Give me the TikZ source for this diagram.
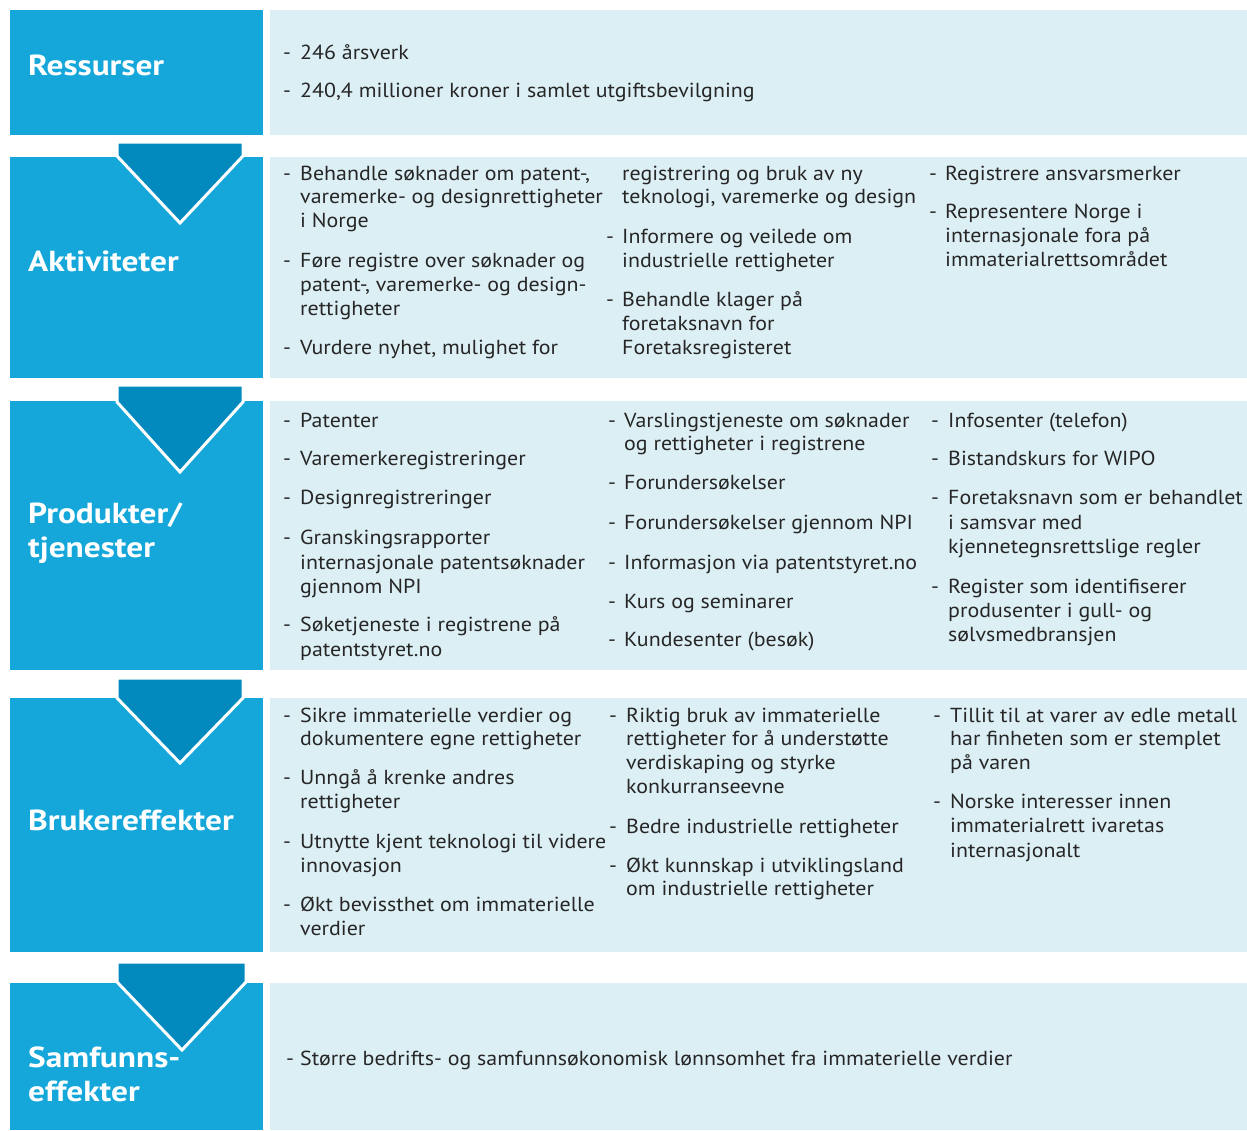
\documentclass[tikz,border=0pt]{standalone}
\usepackage{fontspec}
\setmainfont{PT Sans}
\newfontfamily\bodyfont[FakeStretch=1.08]{PT Sans}
\newfontfamily\headfont[FakeStretch=1.15]{PT Sans}
\definecolor{headblue}{HTML}{15A7D9}
\definecolor{chevblue}{HTML}{028ABF}
\definecolor{lightbox}{HTML}{DCEFF5}
\definecolor{txtgray}{HTML}{262626}
\newcounter{ln}
\newcommand\tl[3]{\stepcounter{ln}\node[txt] (t\arabic{ln}) at (#1,#2) {#3};}
\newcommand\dl[2]{\stepcounter{ln}\node[txt] (d\arabic{ln}) at (#1,#2) {-};}
\tikzset{
  txt/.style={anchor=mid west, inner sep=0pt, yshift=-4pt, text=txtgray, font=\bodyfont\fontsize{20.3}{24}\selectfont},
  head/.style={anchor=mid west, inner sep=0pt, yshift=-6pt, text=white, font=\headfont\fontsize{29}{34}\selectfont\bfseries},
  leftbox/.style={fill=headblue, draw=none},
  rightbox/.style={fill=lightbox, draw=none},
  chevron/.style={fill=chevblue, draw=white, line width=3pt, line join=miter}
}
\begin{document}
\begin{tikzpicture}[x=1pt,y=-1pt]
\useasboundingbox (0,0) rectangle (1247,1130);
% rows
\path[leftbox]  (10,10) rectangle (263,135);
\path[rightbox] (270,10) rectangle (1247,135);
\path[leftbox]  (10,157) rectangle (263,378);
\path[rightbox] (270,157) rectangle (1247,378);
\path[leftbox]  (10,401) rectangle (263,670);
\path[rightbox] (270,401) rectangle (1247,670);
\path[leftbox]  (10,698) rectangle (263,952);
\path[rightbox] (270,698) rectangle (1247,952);
\path[leftbox]  (10,983) rectangle (263,1130);
\path[rightbox] (270,983) rectangle (1247,1130);
% chevrons
\draw[chevron] (117,142) -- (243,142) -- (243,156) -- (180,223) -- (117,156) -- cycle;
\draw[chevron] (117,385) -- (243,385) -- (243,402) -- (180,472) -- (117,402) -- cycle;
\draw[chevron] (117,678) -- (243,678) -- (243,698) -- (180,763) -- (117,698) -- cycle;
\draw[chevron] (117,962) -- (246,962) -- (246,982) -- (182,1050) -- (117,982) -- cycle;
% headings
\node[head] (h1) at (28,67) {Ressurser};
\node[head] (h2) at (28,263) {Aktiviteter};
\node[head, align=left, anchor=west] (h3) at (28,527) {Produkter/\\tjenester};
\node[head, align=left, anchor=west] (h5) at (28,1068) {Samfunns-\\effekter};
\node[head] (h4) at (28,822) {Brukereffekter};
% row 1
\dl{283}{53}\tl{300}{53}{246 årsverk}
\dl{283}{91}\tl{300}{91}{240,4 millioner kroner i samlet utgiftsbevilgning}
% row 2 col 1
\dl{283}{174}\tl{300}{174}{Behandle søknader om patent-,}
\tl{300}{197}{varemerke- og designrettigheter}
\tl{300}{221}{i Norge}
\dl{283}{261}\tl{300}{261}{Føre registre over søknader og}
\tl{300}{285}{patent-, varemerke- og design-}
\tl{300}{309}{rettigheter}
\dl{283}{348}\tl{300}{348}{Vurdere nyhet, mulighet for}
% row 2 col 2
\tl{622}{174}{registrering og bruk av ny}
\tl{622}{197}{teknologi, varemerke og design}
\dl{606}{237}\tl{622}{237}{Informere og veilede om}
\tl{622}{261}{industrielle rettigheter}
\dl{606}{300}\tl{622}{300}{Behandle klager på}
\tl{622}{324}{foretaksnavn for}
\tl{622}{348}{Foretaksregisteret}
% row 2 col 3
\dl{929}{174}\tl{945}{174}{Registrere ansvarsmerker}
\dl{929}{212}\tl{945}{212}{Representere Norge i}
\tl{945}{236}{internasjonale fora på}
\tl{945}{260}{immaterialrettsområdet}
% row 3 col 1
\dl{283}{421}\tl{300}{421}{Patenter}
\dl{283}{459}\tl{300}{459}{Varemerkeregistreringer}
\dl{283}{498}\tl{300}{498}{Designregistreringer}
\dl{283}{538}\tl{300}{538}{Granskingsrapporter}
\tl{300}{563}{internasjonale patentsøknader}
\tl{300}{587}{gjennom NPI}
\dl{283}{625}\tl{300}{625}{Søketjeneste i registrene på}
\tl{300}{650}{patentstyret.no}
% row 3 col 2
\dl{608}{421}\tl{624}{421}{Varslingstjeneste om søknader}
\tl{624}{444}{og rettigheter i registrene}
\dl{608}{483}\tl{624}{483}{Forundersøkelser}
\dl{608}{523}\tl{624}{523}{Forundersøkelser gjennom NPI}
\dl{608}{563}\tl{624}{563}{Informasjon via patentstyret.no}
\dl{608}{602}\tl{624}{602}{Kurs og seminarer}
\dl{608}{640}\tl{624}{640}{Kundesenter (besøk)}
% row 3 col 3
\dl{931}{421}\tl{948}{421}{Infosenter (telefon)}
\dl{931}{459}\tl{948}{459}{Bistandskurs for WIPO}
\dl{931}{498}\tl{948}{498}{Foretaksnavn som er behandlet}
\tl{948}{523}{i samsvar med}
\tl{948}{547}{kjennetegnsrettslige regler}
\dl{931}{587}\tl{948}{587}{Register som identifiserer}
\tl{948}{611}{produsenter i gull- og}
\tl{948}{635}{sølvsmedbransjen}
% row 4 col 1
\dl{283}{716}\tl{300}{716}{Sikre immaterielle verdier og}
\tl{300}{739}{dokumentere egne rettigheter}
\dl{283}{778}\tl{300}{778}{Unngå å krenke andres}
\tl{300}{802}{rettigheter}
\dl{283}{842}\tl{300}{842}{Utnytte kjent teknologi til videre}
\tl{300}{866}{innovasjon}
\dl{283}{905}\tl{300}{905}{Økt bevissthet om immaterielle}
\tl{300}{929}{verdier}
% row 4 col 2
\dl{609}{716}\tl{626}{716}{Riktig bruk av immaterielle}
\tl{626}{739}{rettigheter for å understøtte}
\tl{626}{763}{verdiskaping og styrke}
\tl{626}{787}{konkurranseevne}
\dl{609}{827}\tl{626}{827}{Bedre industrielle rettigheter}
\dl{609}{866}\tl{626}{866}{Økt kunnskap i utviklingsland}
\tl{626}{889}{om industrielle rettigheter}
% row 4 col 3
\dl{933}{716}\tl{950}{716}{Tillit til at varer av edle metall}
\tl{950}{739}{har finheten som er stemplet}
\tl{950}{763}{på varen}
\dl{933}{802}\tl{950}{802}{Norske interesser innen}
\tl{950}{826}{immaterialrett ivaretas}
\tl{950}{851}{internasjonalt}
% row 5
\dl{286}{1059}\tl{300}{1059}{Større bedrifts- og samfunnsøkonomisk lønnsomhet fra immaterielle verdier}
\end{tikzpicture}
\end{document}
